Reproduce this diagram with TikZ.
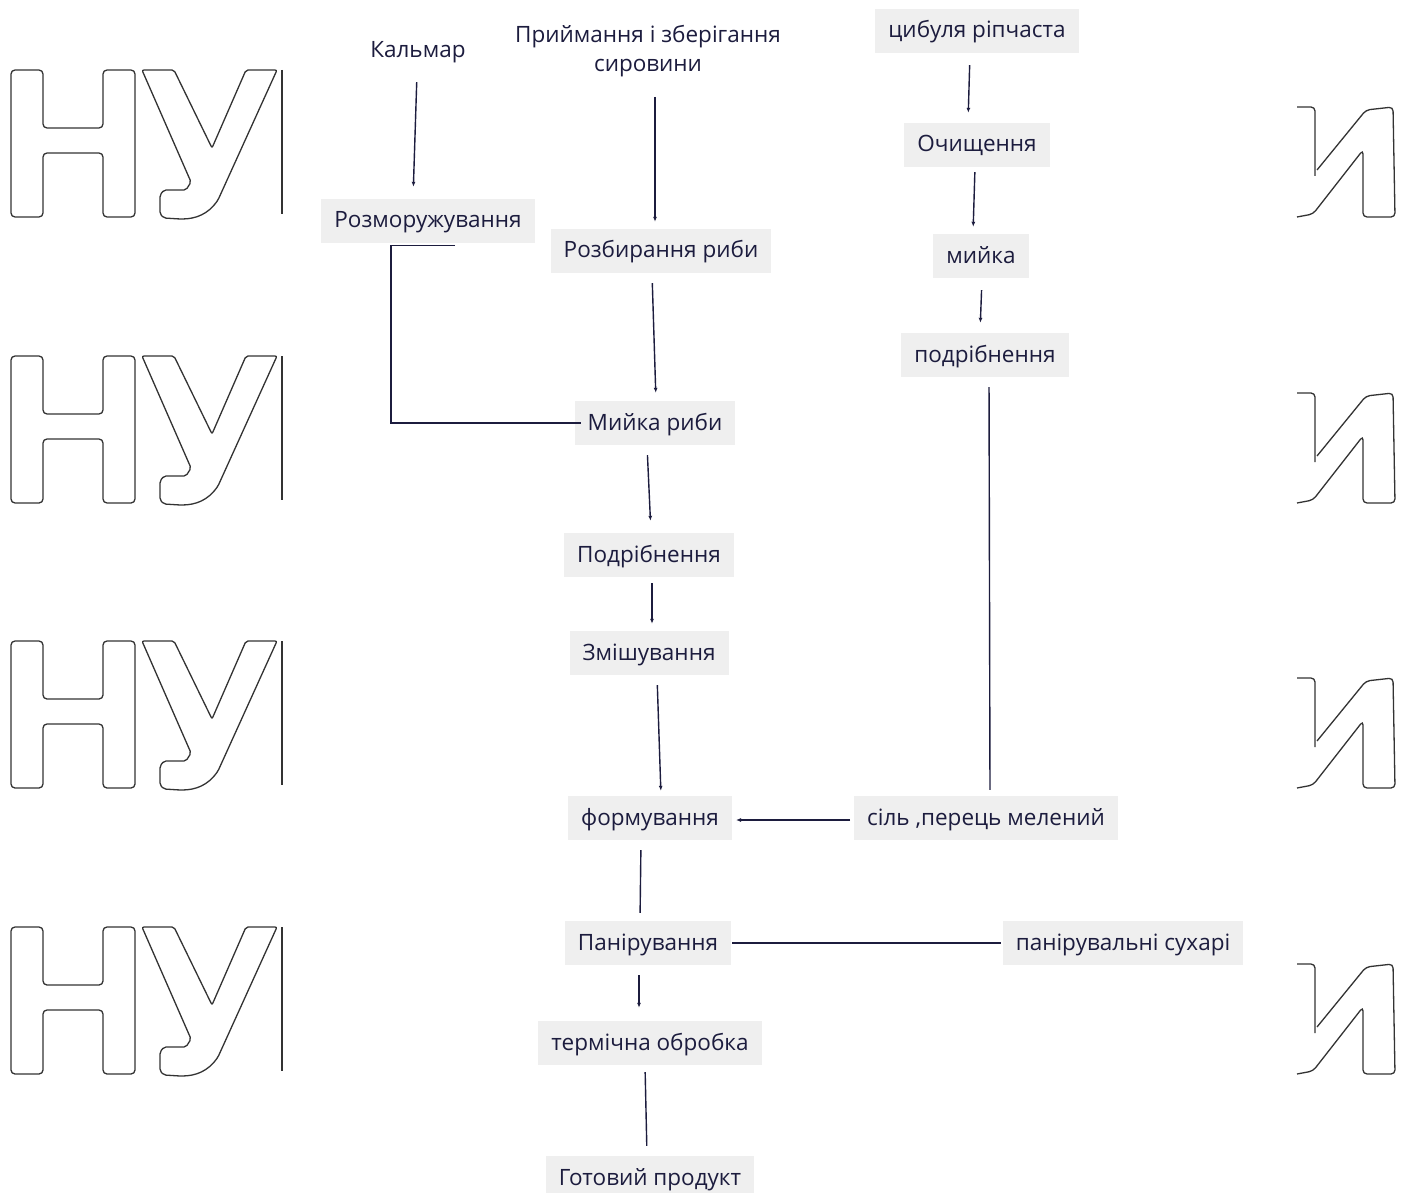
\documentclass[tikz,border=0pt]{standalone}
\usepackage{fontspec}
\setmainfont{Open Sans}
\usetikzlibrary{arrows.meta}
\definecolor{ink}{RGB}{28,28,62}
\definecolor{boxbg}{RGB}{239,239,239}
\newcommand{\wmrow}[1]{%
  \begin{scope}[shift={(0,#1)}]
    % H
    \draw[wm] (11,70) -- (43,70) -- (43,128) -- (103,128) -- (103,70) -- (135,70) -- (135,217) -- (103,217) -- (103,153) -- (43,153) -- (43,217) -- (11,217) -- cycle;
    % U
    \draw[wm, rounded corners=2pt] (142,70) -- (174,70) -- (212,148) -- (246,70) -- (277,70) -- (218,200) .. controls (208,214) and (196,219) .. (180,219) -- (164,218) -- (160,214) -- (160,195) -- (164,190) -- (186,190) -- (191,182) -- cycle;
    \draw[wm] (282,70) -- (282,214);
    % I (right)
    \draw[wm] (1297,107) -- (1315,107) -- (1315,176);
    \draw[wm] (1317,170) -- (1366,110) -- (1393,107) -- (1395,217) -- (1363,217) -- (1363,150) -- (1313,214) -- (1297,217);
  \end{scope}}
\begin{document}
\begin{tikzpicture}[x=1pt,y=-1pt,
  base/.style={font=\fontsize{22.5}{29}\selectfont, text=ink, text height=20pt, text depth=6pt, inner ysep=9pt, inner xsep=13pt},
  stepbox/.style={base, fill=boxbg},
  plain/.style={base},
  link/.style={draw=ink, line width=1.4pt},
  arr/.style={link, -{Latex[length=5pt,width=4pt]}},
  wm/.style={draw=black!80, line width=1.3pt, rounded corners=4pt}
]
\useasboundingbox[fill=white] (0,0) rectangle (1416,1193);

\wmrow{0}
\wmrow{286}
\wmrow{571}
\wmrow{857}

% nodes
\node[plain] (kal) at (418,51) {Кальмар};
\node[font=\fontsize{22.5}{29}\selectfont, text=ink, align=center, inner sep=9pt, anchor=south] (prm) at (648,86) {Приймання і зберігання\\сировини};
\node[stepbox] (cib) at (977,31) {цибуля ріпчаста};
\node[stepbox] (och) at (977,145) {Очищення};
\node[stepbox] (miy) at (981,256) {мийка};
\node[stepbox] (podo) at (985,355) {подрібнення};
\node[stepbox] (rozm) at (428,221) {Розморужування};
\node[stepbox] (rozb) at (661,251) {Розбирання риби};
\node[stepbox] (mrib) at (655,423) {Мийка риби};
\node[stepbox] (podr) at (649,555) {Подрібнення};
\node[stepbox] (zmis) at (649,653) {Змішування};
\node[stepbox] (form) at (650,818) {формування};
\node[stepbox] (sil) at (986,818) {сіль ,перець мелений};
\node[stepbox] (pan) at (648,943) {Панірування};
\node[stepbox] (sukh) at (1123,943) {панірувальні сухарі};
\node[stepbox] (term) at (650,1043) {термічна обробка};
\node[stepbox] (got) at (650,1178) {Готовий продукт};

% connectors
\draw[arr, shorten <=9pt, shorten >=12pt] ([xshift=-1pt]kal.south) -- ([xshift=-15pt]rozm.north);
\draw[arr, shorten <=11pt, shorten >=7pt] ([xshift=7pt]prm.south) -- ([xshift=-6pt]rozb.north);
\draw[arr, shorten <=10pt, shorten >=8pt] ([xshift=-9pt]rozb.south) -- ([xshift=1pt]mrib.north);
\draw[link] ([xshift=27pt,yshift=-2pt]rozm.south) -- ++(-64,0) |- ([xshift=6pt]mrib.west);
\draw[arr, shorten <=10pt, shorten >=12pt] ([xshift=-8pt]mrib.south) -- ([xshift=2pt]podr.north);
\draw[arr, shorten <=6pt, shorten >=7pt] ([xshift=3pt]podr.south) -- ([xshift=3pt]zmis.north);
\draw[arr, shorten <=10pt, shorten >=5pt] ([xshift=8pt]zmis.south) -- ([xshift=11pt]form.north);
\draw[arr, shorten <=4pt, shorten >=4pt] ([yshift=-2pt]sil.west) -- ([yshift=-2pt]form.east);
\draw[link, shorten <=10pt, shorten >=6pt] ([xshift=4pt]podo.south) -- ([xshift=4pt]sil.north);
\draw[link, shorten <=10pt, shorten >=8pt] ([xshift=-9pt]form.south) -- ([xshift=-8pt]pan.north);
\draw[link, shorten <=2pt, shorten >=1pt] (sukh.west) -- (pan.east);
\draw[arr, shorten <=10pt, shorten >=13pt] ([xshift=-9pt]pan.south) -- ([xshift=-11pt]term.north);
\draw[link, shorten <=7pt, shorten >=10pt] ([xshift=-5pt]term.south) -- ([xshift=-3pt]got.north);
\draw[arr, shorten <=12pt, shorten >=10pt] ([xshift=-7pt]cib.south) -- ([xshift=-9pt]och.north);
\draw[arr, shorten <=5pt, shorten >=7pt] ([xshift=-2pt]och.south) -- ([xshift=-8pt]miy.north);
\draw[arr, shorten <=12pt, shorten >=10pt] ([xshift=1pt]miy.south) -- ([xshift=-5pt]podo.north);
\end{tikzpicture}
\end{document}
